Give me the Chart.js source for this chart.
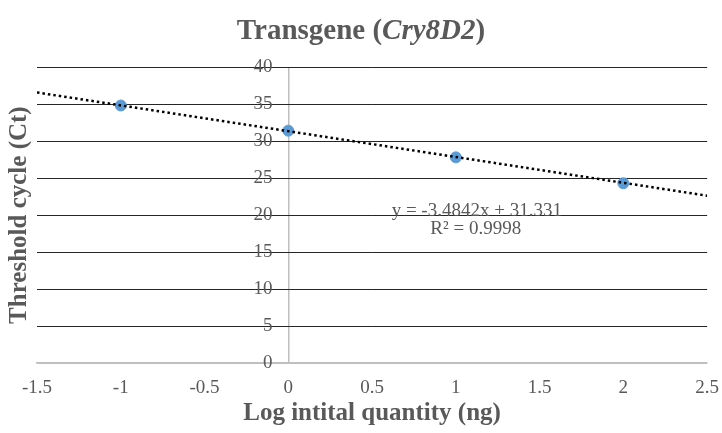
<!DOCTYPE html>
<html>
<head>
<meta charset="utf-8">
<script src="https://cdn.jsdelivr.net/npm/chart.js@4"></script>
<style>
  html, body { margin: 0; padding: 0; background: #fff; }
  #wrap { width: 722px; height: 433px; }
</style>
</head>
<body>
<div id="wrap"><canvas id="chart"></canvas></div>
<script>
// measured points (log quantity vs Ct)
var logQty = [-1, 0, 1, 2];
var ctValues = [34.8, 31.4, 27.8, 24.3];

// linear trendline ends
var trendX = [-1.5, 2.5];
var trendY = [36.56, 22.62];

var xTicks = [-1.5, -1, -0.5, 0, 0.5, 1, 1.5, 2, 2.5];
var xTickLabels = ['-1.5', '-1', '-0.5', '0', '0.5', '1', '1.5', '2', '2.5'];
var yTicks = [0, 5, 10, 15, 20, 25, 30, 35, 40];
var yTickLabels = ['0', '5', '10', '15', '20', '25', '30', '35', '40'];

var equationText = 'y = -3.4842x + 31.331';
var rSquaredText = 'R\u00b2 = 0.9998';

var textGray = '#595959';
var serif = "'Liberation Serif', 'Times New Roman', serif";

function setTicks(values) {
    return function(scale) {
        scale.ticks = values.map(function(v) { return { value: v }; });
    };
}

function labelFor(values, labels) {
    return function(value) {
        var i = values.indexOf(value);
        return i >= 0 ? labels[i] : '';
    };
}

// title with italic gene name
var titlePlugin = {
    id: 'mixedTitle',
    afterDraw: function(chart) {
        var ctx = chart.ctx;
        var parts = [
            { t: 'Transgene (', f: 'bold 29px ' + serif },
            { t: 'Cry8D2', f: 'italic bold 29px ' + serif },
            { t: ')', f: 'bold 29px ' + serif }
        ];
        ctx.save();
        var total = 0;
        parts.forEach(function(p) { ctx.font = p.f; p.w = ctx.measureText(p.t).width; total += p.w; });
        var x = chart.width / 2 - total / 2;
        ctx.fillStyle = textGray;
        ctx.textBaseline = 'middle';
        ctx.textAlign = 'left';
        parts.forEach(function(p) { ctx.font = p.f; ctx.fillText(p.t, x, 32); x += p.w; });
        ctx.restore();
    }
};

// trendline equation label
var equationPlugin = {
    id: 'equation',
    afterDatasetsDraw: function(chart) {
        var ctx = chart.ctx;
        var xs = chart.scales.x, ys = chart.scales.y;
        var cx = xs.getPixelForValue(1.125);
        var cy = ys.getPixelForValue(20.6);
        ctx.save();
        ctx.font = '19px ' + serif;
        ctx.fillStyle = textGray;
        ctx.textAlign = 'center';
        ctx.textBaseline = 'middle';
        ctx.fillText(equationText, cx, cy);
        ctx.fillText(rSquaredText, cx - 1, cy + 18);
        ctx.restore();
    }
};

new Chart(document.getElementById('chart'), {
    type: 'scatter',
    data: {
        datasets: [{
            type: 'line',
            label: 'Linear trend',
            data: trendX.map(function(x, i) { return { x: x, y: trendY[i] }; }),
            borderColor: '#000',
            borderWidth: 2.5,
            borderDash: [2.5, 3],
            pointRadius: 0,
            fill: false,
            order: 0
        }, {
            label: 'Ct',
            data: logQty.map(function(x, i) { return { x: x, y: ctValues[i] }; }),
            backgroundColor: '#5b9bd5',
            borderColor: '#5b9bd5',
            pointRadius: 5.5,
            pointHoverRadius: 5.5,
            order: 1
        }]
    },
    options: {
        responsive: true,
        maintainAspectRatio: false,
        animation: false,
        layout: { padding: { top: 67, left: 3, right: 5, bottom: 2 } },
        plugins: {
            legend: { display: false },
            tooltip: { enabled: false }
        },
        scales: {
            x: {
                type: 'linear',
                min: -1.5,
                max: 2.5,
                afterBuildTicks: setTicks(xTicks),
                border: { display: true, color: '#bfbfbf', width: 1.5 },
                grid: {
                    drawTicks: true,
                    tickLength: 10,
                    tickColor: 'rgba(0,0,0,0)',
                    color: function(c) { return c.tick && c.tick.value === 0 ? '#bfbfbf' : 'rgba(0,0,0,0)'; },
                    lineWidth: 1.5
                },
                ticks: {
                    padding: 3,
                    color: textGray,
                    font: { family: serif, size: 19 },
                    callback: labelFor(xTicks, xTickLabels)
                },
                title: {
                    display: true,
                    text: 'Log intital quantity (ng)',
                    color: textGray,
                    font: { family: serif, size: 25, weight: 'bold' },
                    padding: { top: -3, bottom: 2 }
                }
            },
            y: {
                type: 'linear',
                position: 'left',
                min: 0,
                max: 40,
                afterBuildTicks: setTicks(yTicks),
                border: { display: false },
                grid: {
                    drawTicks: false,
                    color: function(c) { return c.tick && c.tick.value === 0 ? '#bfbfbf' : '#262626'; },
                    lineWidth: 1
                },
                ticks: { display: false },
                title: {
                    display: true,
                    text: 'Threshold cycle (Ct)',
                    color: textGray,
                    font: { family: serif, size: 25, weight: 'bold' },
                    padding: { top: 2, bottom: 2 }
                }
            },
            yLabels: {
                type: 'linear',
                axis: 'y',
                position: { x: -0.095 },
                min: 0,
                max: 40,
                afterBuildTicks: setTicks(yTicks),
                border: { display: false },
                grid: { display: false, drawTicks: false },
                ticks: {
                    color: textGray,
                    font: { family: serif, size: 19 },
                    callback: labelFor(yTicks, yTickLabels)
                }
            }
        }
    },
    plugins: [titlePlugin, equationPlugin]
});
</script>
</body>
</html>
